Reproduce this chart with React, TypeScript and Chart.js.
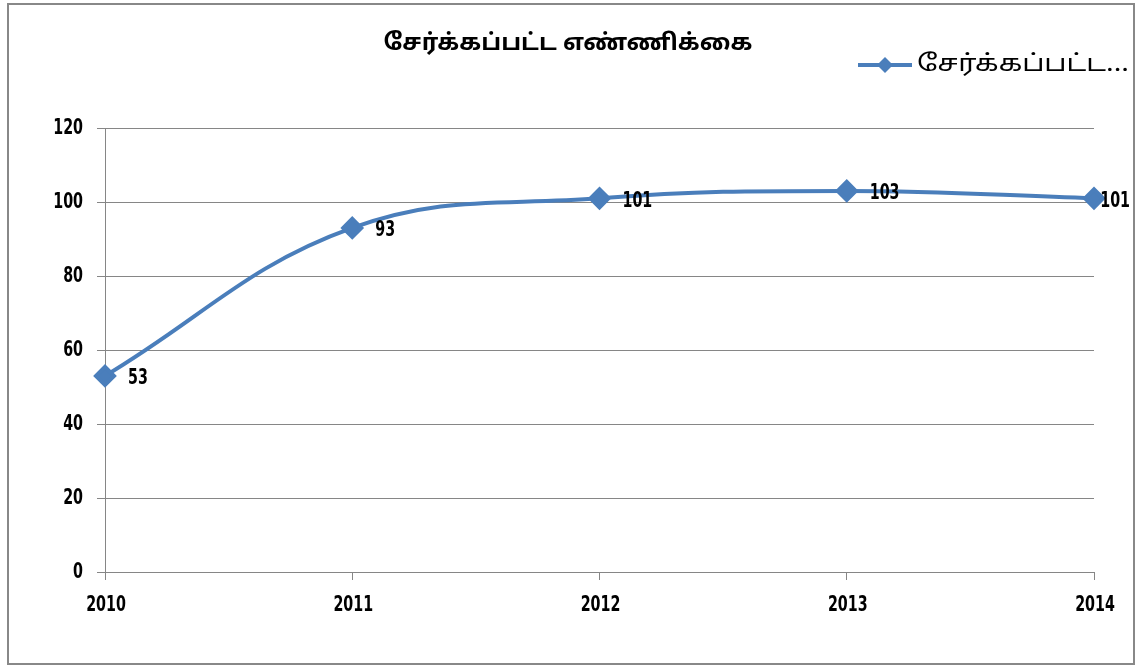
import React, { useEffect, useRef } from "react";
import { Chart, registerables } from "chart.js";

Chart.register(...registerables);

const years = ["2010", "2011", "2012", "2013", "2014"];
const counts = [53, 93, 101, 103, 101];
const yTicks = [0, 20, 40, 60, 80, 100, 120];
const chartTitle = "சேர்க்கப்பட்ட எண்ணிக்கை";
const seriesName = "சேர்க்கப்பட்ட எண்ணிக்கை";
const legendText = "சேர்க்கப்பட்ட...";

const LINE = "#4A7EBB";
const GRID = "#868686";
const NUM_FONT = "bold 21px 'DejaVu Sans', sans-serif";
const NUM_SCALE = 0.68;
const TAMIL_FONT = "'Noto Sans Tamil', 'Latha', 'Noto Sans', 'DejaVu Sans', sans-serif";

function drawCondensed(ctx: any, text: string, x: number, y: number, align: string) {
  ctx.save();
  ctx.font = NUM_FONT;
  ctx.textBaseline = "middle";
  ctx.textAlign = "left";
  const w = ctx.measureText(text).width * NUM_SCALE;
  let left = x;
  if (align === "center") left = x - w / 2;
  else if (align === "right") left = x - w;
  ctx.translate(left, y);
  ctx.scale(NUM_SCALE, 1);
  ctx.fillText(text, 0, 0);
  ctx.restore();
  return w;
}

function drawFitted(ctx: any, text: string, font: string, x: number, y: number, width: number, align: string) {
  ctx.save();
  ctx.font = font;
  ctx.textBaseline = "middle";
  ctx.textAlign = "left";
  const raw = ctx.measureText(text).width;
  const s = width / raw;
  const left = align === "center" ? x - width / 2 : x;
  ctx.translate(left, y);
  ctx.scale(s, 1);
  ctx.fillText(text, 0, 0);
  ctx.restore();
}

const framePlugin = {
  id: "frame",
  beforeDraw(chart: any) {
    const ctx = chart.ctx;
    ctx.save();
    ctx.fillStyle = "#ffffff";
    ctx.fillRect(0, 0, chart.width, chart.height);
    ctx.strokeStyle = "#888888";
    ctx.lineWidth = 2;
    ctx.strokeRect(8, 4, 1126, 660);
    ctx.restore();
  },
  afterDraw(chart: any) {
    const ctx = chart.ctx;
    ctx.save();
    ctx.fillStyle = "#000000";
    drawFitted(ctx, chartTitle, "bold 23px " + TAMIL_FONT, 568, 45, 369, "center");
    // legend
    const ly = 65;
    ctx.strokeStyle = LINE;
    ctx.lineWidth = 4;
    ctx.beginPath();
    ctx.moveTo(858, ly);
    ctx.lineTo(912, ly);
    ctx.stroke();
    ctx.fillStyle = LINE;
    ctx.beginPath();
    ctx.moveTo(885, ly - 8);
    ctx.lineTo(893, ly);
    ctx.lineTo(885, ly + 8);
    ctx.lineTo(877, ly);
    ctx.closePath();
    ctx.fill();
    ctx.fillStyle = "#000000";
    drawFitted(ctx, legendText, "23px " + TAMIL_FONT, 917, ly + 1, 212, "left");
    ctx.restore();
  },
};

const axisLabelPlugin = {
  id: "axisLabels",
  afterDraw(chart: any) {
    const ctx = chart.ctx;
    const xs = chart.scales.x;
    const ys = chart.scales.y;
    ctx.save();
    ctx.fillStyle = "#000000";
    years.forEach((lab, i) => {
      drawCondensed(ctx, lab, xs.getPixelForValue(i) + 1, ys.bottom + 34, "center");
    });
    yTicks.forEach((v) => {
      drawCondensed(ctx, String(v), xs.left - 22, ys.getPixelForValue(v) + 1, "right");
    });
    ctx.restore();
  },
};

const dataLabelPlugin = {
  id: "pointLabels",
  afterDatasetsDraw(chart: any) {
    const ctx = chart.ctx;
    const meta = chart.getDatasetMeta(0);
    ctx.save();
    ctx.fillStyle = "#000000";
    ctx.font = NUM_FONT;
    meta.data.forEach((pt: any, i: number) => {
      const txt = String(counts[i]);
      const w = ctx.measureText(txt).width * NUM_SCALE;
      const x = Math.min(pt.x + 23, 1130 - w);
      drawCondensed(ctx, txt, x, pt.y + 3, "left");
    });
    ctx.restore();
  },
};

export default function App() {
  const ref = useRef<HTMLCanvasElement | null>(null);
  useEffect(() => {
    if (!ref.current) return;
    const chart = new Chart(ref.current, {
      type: "line",
      data: {
        labels: years,
        datasets: [
          {
            label: seriesName,
            data: counts,
            borderColor: LINE,
            backgroundColor: LINE,
            borderWidth: 4,
            tension: 0.4,
            pointStyle: "rectRot",
            pointRadius: 9,
            pointHoverRadius: 9,
            pointBackgroundColor: LINE,
            pointBorderColor: LINE,
            fill: false,
          },
        ],
      },
      options: {
        animation: false,
        responsive: false,
        events: [],
        layout: { padding: { left: 20, right: 45, top: 128, bottom: 55 } },
        plugins: {
          legend: { display: false },
          title: { display: false },
          tooltip: { enabled: false },
        },
        scales: {
          x: {
            offset: false,
            grid: {
              display: true,
              drawOnChartArea: false,
              drawTicks: true,
              tickLength: 8,
              color: GRID,
            },
            border: { display: true, color: GRID, width: 1 },
            ticks: {
              display: true,
              color: "rgba(0,0,0,0)",
              font: { size: 1 },
              maxRotation: 0,
              autoSkip: false,
            },
            afterFit(scale: any) {
              scale.height = 40;
            },
          },
          y: {
            min: 0,
            max: 120,
            afterBuildTicks(scale: any) {
              scale.ticks = yTicks.map((v) => ({ value: v }));
            },
            grid: {
              display: true,
              drawTicks: true,
              tickLength: 8,
              color: GRID,
            },
            border: { display: true, color: GRID, width: 1 },
            ticks: {
              display: true,
              color: "rgba(0,0,0,0)",
              font: { size: 1 },
            },
            afterFit(scale: any) {
              scale.width = 85;
            },
          },
        },
      },
      plugins: [framePlugin, axisLabelPlugin, dataLabelPlugin],
    });
    return () => chart.destroy();
  }, []);
  return (
    <div style={{ position: "fixed", left: 0, top: 0, width: 1139, height: 667 }}>
      <canvas ref={ref} width={1139} height={667} style={{ display: "block" }} />
    </div>
  );
}
